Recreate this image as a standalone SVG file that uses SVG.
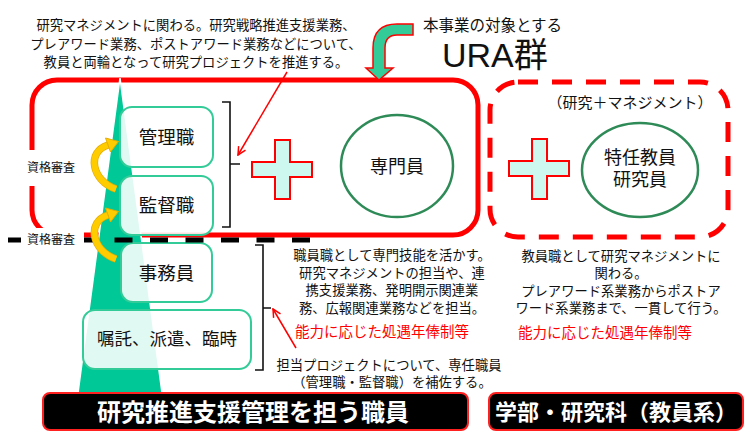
<svg xmlns="http://www.w3.org/2000/svg" width="750" height="436" viewBox="0 0 750 436">
<defs>
<style>
text{font-family:"Liberation Sans","Noto Sans CJK JP",sans-serif;fill:#111}
.t13{font-size:13.3px}
.red{fill:#FF0000;font-size:14.5px}
.box{fill:#fff;fill-opacity:0.88;stroke:#33CC99;stroke-width:2}
.bt{font-size:18.5px;text-anchor:middle}
.ell{fill:#fff;stroke:#2E8B57;stroke-width:2.5}
.plus{fill:#CCF8F0;stroke:#FF0000;stroke-width:2}
.lbl{font-size:12px}
.bar{fill:#000;stroke:#FF2020;stroke-width:2}
.bart{fill:#fff;font-weight:bold;text-anchor:middle}
.brk{fill:none;stroke:#111;stroke-width:1.6}
.rarr{fill:none;stroke:#FF0000;stroke-width:1.5}
.ylw{fill:none;stroke:#FFCC00;stroke-width:6;stroke-linecap:butt}
.ylwh{fill:#FFCC00;stroke:#E6AE00;stroke-width:1}
</style>
<marker id="ah" viewBox="0 0 10 10" refX="9" refY="5" markerWidth="10" markerHeight="10" markerUnits="userSpaceOnUse" orient="auto">
<path d="M1,1 L9,5 L1,9" fill="none" stroke="#FF0000" stroke-width="1.5"/>
</marker>
</defs>
<rect width="750" height="436" fill="#fff"/>

<!-- top explanatory text -->
<g id="top-text" text-anchor="middle">
<text class="t13" x="196" y="30">研究マネジメントに関わる。研究戦略推進支援業務、</text>
<text class="t13" x="196" y="49">プレアワード業務、ポストアワード業務などについて、</text>
<text class="t13" x="196" y="67">教員と両輪となって研究プロジェクトを推進する。</text>
</g>

<g id="title">
<text x="423" y="31" style="font-size:15.5px">本事業の対象とする</text>
<text x="442" y="67" style="font-size:34px">URA群</text>
</g>

<!-- URA group solid box -->
<g id="ura-box">
<rect x="32" y="80" width="446" height="155" rx="25" fill="none" stroke="#FF0000" stroke-width="5"/>
</g>

<!-- dashed faculty group box -->
<g id="faculty-box">
<rect x="490" y="82" width="238" height="155" rx="28" fill="none" stroke="#FF0000" stroke-width="5" stroke-dasharray="20 14"/>
<text x="630" y="108" style="font-size:15px" text-anchor="middle">（研究＋マネジメント）</text>
</g>

<!-- green triangle -->
<g id="triangle">
<polygon points="120,78 78,393 162,393" fill="#00C896" stroke="#fff" stroke-width="1.5"/>
</g>

<g id="node-kanrishoku">
<rect class="box" x="120" y="107" width="93" height="60" rx="12"/>
<text class="bt" x="166.5" y="143.5">管理職</text>
</g>
<g id="node-kantokushoku">
<rect class="box" x="120" y="176" width="93" height="59" rx="12"/>
<text class="bt" x="166.5" y="211.5">監督職</text>
</g>
<g id="node-jimuin">
<rect class="box" x="121" y="243" width="91" height="59" rx="12"/>
<text class="bt" x="166.5" y="279.5">事務員</text>
</g>
<g id="node-shokutaku">
<rect class="box" x="83" y="310" width="168" height="59" rx="12"/>
<text x="167" y="344.5" style="font-size:17.5px" text-anchor="middle">嘱託、派遣、臨時</text>
</g>

<g id="plus1"><path class="plus" d="M275,140 H290 V162 H312 V177 H290 V199 H275 V177 H252 V162 H275 Z"/></g>
<g id="plus2"><path class="plus" d="M532,139 H547 V161 H569 V176 H547 V199 H532 V176 H509 V161 H532 Z"/></g>

<g id="node-senmonin">
<ellipse class="ell" cx="397" cy="166" rx="56" ry="51"/>
<text x="397" y="173" style="font-size:18px" text-anchor="middle">専門員</text>
</g>
<g id="node-tokunin">
<ellipse class="ell" cx="640" cy="170" rx="58" ry="47"/>
<text x="640" y="164" style="font-size:18px" text-anchor="middle">特任教員</text>
<text x="640" y="186" style="font-size:18px" text-anchor="middle">研究員</text>
</g>

<!-- connectors -->
<g id="connectors">
<path d="M413,24 L397,24 Q373,24 373,48 L373,68 L366,68 L379,80 L393,68 L385,68 L385,48 Q385,35 397,35 L413,35 Z" fill="#33CC99" stroke="#FF0000" stroke-width="1.5"/>
<line x1="8" y1="240" x2="310" y2="240" stroke="#000" stroke-width="5" stroke-dasharray="18 17.5"/>
<path class="brk" d="M222,102 H230 V227 H222 M230,164 H240"/>
<path class="brk" d="M255,245 H263 V370 H255 M263,308 H271"/>
<line class="rarr" x1="287" y1="72" x2="238" y2="155" marker-end="url(#ah)"/>
<line class="rarr" x1="296" y1="348" x2="273" y2="309" marker-end="url(#ah)"/>
<path d="M116,189 C92,181 86,152 108,145" fill="none" stroke="#E6AE00" stroke-width="7.5"/>
<path class="ylw" d="M116,189 C92,181 86,152 108,145"/>
<polygon class="ylwh" points="105.5,138 118.5,141.5 110.5,152"/>
<path d="M116,259 C92,251 86,222 108,215" fill="none" stroke="#E6AE00" stroke-width="7.5"/>
<path class="ylw" d="M116,259 C92,251 86,222 108,215"/>
<polygon class="ylwh" points="105.5,208 118.5,211.5 110.5,222"/>
</g>

<!-- labels -->
<g id="labels">
<rect x="22" y="150" width="57" height="36" fill="#fff"/>
<text class="lbl" x="27" y="172">資格審査</text>
<rect x="21" y="228" width="63" height="20" fill="#fff"/>
<text class="lbl" x="27" y="244">資格審査</text>
</g>

<g id="staff-text" text-anchor="middle">
<text class="t13" x="392" y="260">職員職として専門技能を活かす。</text>
<text class="t13" x="392" y="278">研究マネジメントの担当や、連</text>
<text class="t13" x="392" y="295">携支援業務、発明開示関連業</text>
<text class="t13" x="392" y="313">務、広報関連業務などを担当。</text>
<text class="t13" x="389" y="370">担当プロジェクトについて、専任職員</text>
<text class="t13" x="392" y="387">（管理職・監督職）を補佐する。</text>
</g>
<text class="red" x="295" y="337">能力に応じた処遇年俸制等</text>

<g id="faculty-text" text-anchor="middle">
<text class="t13" x="621" y="261">教員職として研究マネジメントに</text>
<text class="t13" x="621" y="278">関わる。</text>
<text class="t13" x="621" y="296">プレアワード系業務からポストア</text>
<text class="t13" x="621" y="313">ワード系業務まで、一貫して行う。</text>
</g>
<text class="red" x="518" y="338">能力に応じた処遇年俸制等</text>

<g id="bar-staff">
<rect class="bar" x="43" y="393" width="425" height="37" rx="7"/>
<text class="bart" x="253" y="421" style="font-size:24px">研究推進支援管理を担う職員</text>
</g>
<g id="bar-faculty">
<rect class="bar" x="489" y="393" width="254" height="37" rx="7"/>
<text class="bart" x="616" y="420" style="font-size:22px">学部・研究科（教員系）</text>
</g>
</svg>
